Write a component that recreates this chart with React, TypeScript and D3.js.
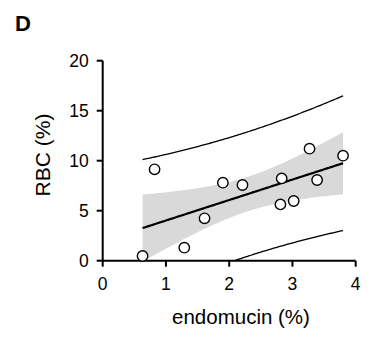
import * as d3 from "d3";

// endomucin (%) vs RBC (%)
const endomucin = [0.63, 0.82, 1.29, 1.61, 1.9, 2.21, 2.83, 2.81, 3.02, 3.27, 3.39, 3.8];
const rbc = [0.47, 9.14, 1.3, 4.24, 7.8, 7.57, 8.23, 5.63, 5.97, 11.2, 8.07, 10.5];
const xTicks = [0, 1, 2, 3, 4];
const yTicks = [0, 5, 10, 15, 20];

const T_975_DF10 = 2.228;

function fit(xs: number[], ys: number[]) {
  const n = xs.length;
  const mx = d3.mean(xs)!;
  const my = d3.mean(ys)!;
  const sxx = d3.sum(xs, (x) => (x - mx) ** 2);
  const sxy = d3.sum(xs, (x, i) => (x - mx) * (ys[i] - my));
  const b = sxy / sxx;
  const a = my - b * mx;
  const sse = d3.sum(xs, (x, i) => (ys[i] - (a + b * x)) ** 2);
  const s = Math.sqrt(sse / (n - 2));
  return { n, mx, sxx, a, b, s };
}

export default function App() {
  const margin = { left: 102.7, right: 18.3, top: 60.7, bottom: 77.3 };
  const width = 374;
  const height = 338;
  const x = d3.scaleLinear().domain([0, 4]).range([margin.left, width - margin.right]);
  const y = d3.scaleLinear().domain([0, 20]).range([height - margin.bottom, margin.top]);

  const f = fit(endomucin, rbc);
  const [x0, x1] = d3.extent(endomucin) as [number, number];
  const xs = d3.range(0, 101).map((i) => x0 + ((x1 - x0) * i) / 100);
  const pts = xs.map((xv) => {
    const yhat = f.a + f.b * xv;
    const lev = 1 / f.n + (xv - f.mx) ** 2 / f.sxx;
    const ci = T_975_DF10 * f.s * Math.sqrt(lev);
    const pi = T_975_DF10 * f.s * Math.sqrt(1 + lev);
    return { xv, yhat, ciLo: yhat - ci, ciHi: yhat + ci, piLo: yhat - pi, piHi: yhat + pi };
  });

  const band = d3
    .area<(typeof pts)[number]>()
    .x((d) => x(d.xv))
    .y0((d) => y(d.ciLo))
    .y1((d) => y(d.ciHi));
  const line = (key: "yhat" | "piLo" | "piHi") =>
    d3
      .line<(typeof pts)[number]>()
      .x((d) => x(d.xv))
      .y((d) => y(d[key]))(pts) ?? undefined;

  const font = "'Liberation Sans', Arial, sans-serif";
  const y0 = y(0);

  return (
    <svg
      width={width}
      height={height}
      style={{ position: "absolute", left: 0, top: 0, background: "#fff" }}
      fontFamily={font}
    >
      <defs>
        <clipPath id="plot">
          <rect x={x(0)} y={y(20)} width={x(4) - x(0)} height={y(0) - y(20)} />
        </clipPath>
      </defs>
      <text x={15} y={31} fontSize={22} fontWeight="bold">D</text>

      <g clipPath="url(#plot)">
        <path d={band(pts) ?? undefined} fill="#d9d9d9" />
        <path d={line("piHi")} fill="none" stroke="#000" strokeWidth={1.3} />
        <path d={line("piLo")} fill="none" stroke="#000" strokeWidth={1.3} />
        <path d={line("yhat")} fill="none" stroke="#000" strokeWidth={2.2} />
      </g>

      {/* axes */}
      <line x1={x(0)} x2={x(0)} y1={y(20)} y2={y0} stroke="#000" strokeWidth={2} />
      <line x1={x(0)} x2={x(4)} y1={y0} y2={y0} stroke="#000" strokeWidth={2} />
      {yTicks.map((t) => (
        <g key={"y" + t}>
          <line x1={x(0) - 6} x2={x(0)} y1={y(t)} y2={y(t)} stroke="#000" strokeWidth={2} />
          <text x={x(0) - 14} y={y(t)} dy="0.35em" textAnchor="end" fontSize={17.5}>
            {t}
          </text>
        </g>
      ))}
      {xTicks.map((t) => (
        <g key={"x" + t}>
          <line x1={x(t)} x2={x(t)} y1={y0} y2={y0 + 6} stroke="#000" strokeWidth={2} />
          <text x={x(t)} y={y0 + 23} dy="0.35em" textAnchor="middle" fontSize={17.5}>
            {t}
          </text>
        </g>
      ))}

      {endomucin.map((xv, i) => (
        <circle key={i} cx={x(xv)} cy={y(rbc[i])} r={5.2} fill="#fff" stroke="#000" strokeWidth={1.4} />
      ))}

      <text x={241} y={317} dy="0.35em" textAnchor="middle" fontSize={20.5}>
        endomucin (%)
      </text>
      <text
        transform={`translate(43,155) rotate(-90)`}
        textAnchor="middle"
        dy="0.35em"
        fontSize={21}
      >
        RBC (%)
      </text>
    </svg>
  );
}
